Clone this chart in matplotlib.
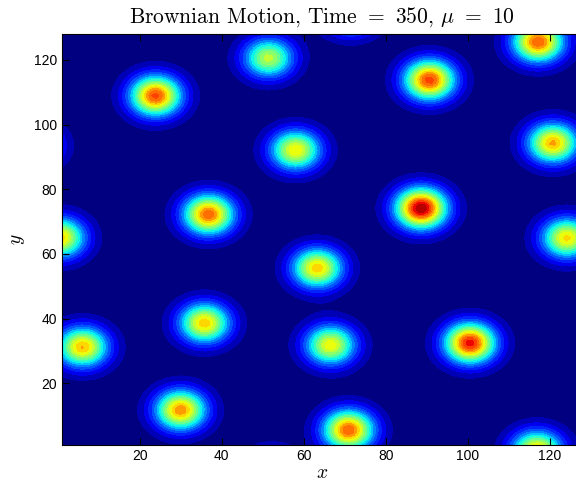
import matplotlib
matplotlib.use('Agg')
import matplotlib.pyplot as plt
import numpy as np

plt.rcParams['mathtext.fontset'] = 'cm'
plt.rcParams['font.family'] = 'Liberation Sans'

# particle centres (x, y) and peak heights
px = [23.9, 51.4, 71.5, 90.6, 117.1, 120.7, 58.0, -6.0, 36.8, 88.6,
      124.1, 0.5, 63.3, 35.8, 66.5, 100.5, 6.1, 30.0, 70.9, 116.8,
      52.0, 137.0]
py = [108.9, 120.6, 134.5, 113.8, 125.6, 94.3, 92.1, 93.5, 72.2, 74.1,
      64.9, 65.0, 55.6, 38.6, 31.8, 32.4, 31.2, 11.7, 5.5, -1.0,
      -8.0, 31.0]
amp = [0.86, 0.60, 0.62, 0.87, 0.84, 0.75, 0.68, 0.60, 0.83, 1.00,
       0.70, 0.72, 0.72, 0.72, 0.67, 0.92, 0.74, 0.78, 0.84, 0.74,
       0.60, 0.70]

xs = np.arange(1, 129)
ys = np.arange(1, 129)
X, Y = np.meshgrid(xs, ys)
Z = np.zeros_like(X, dtype=float)
for cx, cy, a in zip(px, py, amp):
    r = np.hypot(X - cx, Y - cy)
    Z += a * np.exp(-r ** 2 / (30.0 + r))

# matlab-style contourf: each band takes the colour of its lower level
jet = plt.get_cmap('jet', 64)
levels = np.linspace(Z.min(), Z.max(), 20)
band_colors = [jet((lv - Z.min()) / (Z.max() - Z.min())) for lv in levels[:-1]]

fig = plt.figure(figsize=(5.76, 4.87), dpi=100)
ax = fig.add_axes([0.107, 0.087, 0.905, 0.843])
ax.contourf(X, Y, Z, levels=levels, colors=band_colors, antialiased=False)
ax.set_xlim(1, 128)
ax.set_ylim(1, 128)
ax.set_xticks([20, 40, 60, 80, 100, 120])
ax.set_yticks([20, 40, 60, 80, 100, 120])
ax.tick_params(direction='in', top=True, right=True, length=5, labelsize=10)
ax.set_xlabel(r'$x$', fontsize=14, labelpad=1)
ax.set_ylabel(r'$y$', fontsize=14, labelpad=5)
ax.set_title(r'Brownian Motion, Time $=$ 350, $\mu$ $=$ 10',
             fontsize=15.5, family='cmr10', pad=8)
plt.savefig('out.png', dpi=100)
